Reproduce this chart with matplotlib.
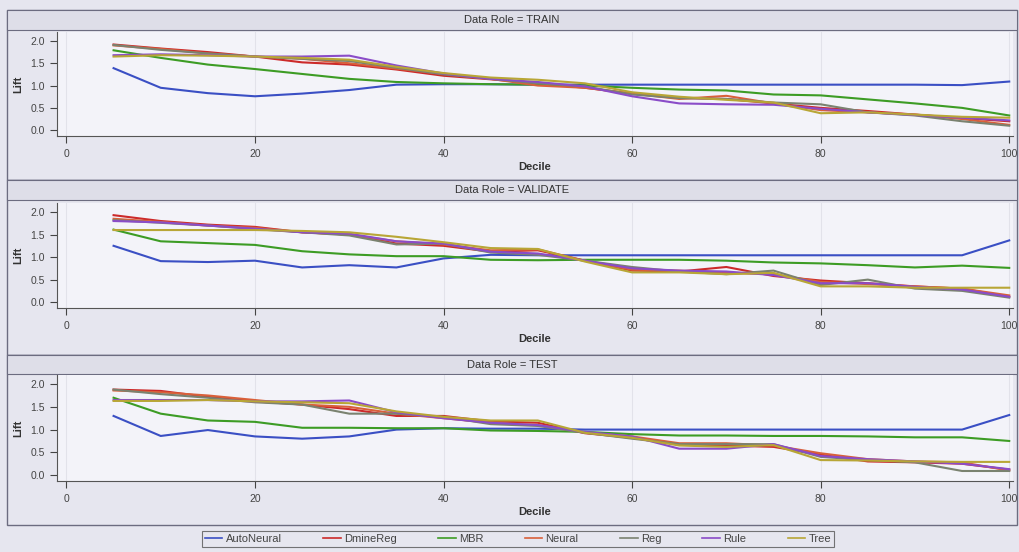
import numpy as np
import matplotlib.pyplot as plt
from matplotlib.patches import Rectangle

plt.rcParams['font.family'] = ['Liberation Sans', 'DejaVu Sans']

# deciles 5..100
decile = [5, 10, 15, 20, 25, 30, 35, 40, 45, 50, 55, 60, 65, 70, 75, 80, 85, 90, 95, 100]
models = ["AutoNeural", "DmineReg", "MBR", "Neural", "Reg", "Rule", "Tree"]
colors = ["#3a4fc4", "#cc2a2a", "#3d9c25", "#d9603a", "#7a8270", "#8a4cc8", "#b8a636"]

# TRAIN
auto_tr = [1.39, 0.95, 0.83, 0.76, 0.82, 0.90, 1.02, 1.03, 1.03, 1.02, 1.02, 1.02, 1.02, 1.02, 1.02, 1.02, 1.02, 1.02, 1.01, 1.09]
dmine_tr = [1.92, 1.83, 1.75, 1.65, 1.52, 1.47, 1.36, 1.22, 1.14, 1.05, 0.95, 0.82, 0.72, 0.70, 0.60, 0.50, 0.43, 0.35, 0.27, 0.20]
mbr_tr = [1.79, 1.62, 1.47, 1.37, 1.26, 1.15, 1.08, 1.05, 1.03, 1.02, 1.00, 0.95, 0.91, 0.89, 0.80, 0.78, 0.69, 0.60, 0.50, 0.33]
neural_tr = [1.90, 1.82, 1.72, 1.65, 1.60, 1.50, 1.38, 1.26, 1.15, 1.00, 0.95, 0.82, 0.70, 0.77, 0.60, 0.45, 0.40, 0.35, 0.25, 0.12]
reg_tr = [1.91, 1.80, 1.72, 1.65, 1.60, 1.55, 1.40, 1.25, 1.15, 1.05, 0.98, 0.80, 0.72, 0.70, 0.62, 0.58, 0.40, 0.33, 0.20, 0.10]
rule_tr = [1.68, 1.70, 1.68, 1.65, 1.65, 1.67, 1.45, 1.27, 1.15, 1.08, 0.98, 0.76, 0.60, 0.58, 0.57, 0.48, 0.40, 0.34, 0.28, 0.22]
tree_tr = [1.65, 1.68, 1.67, 1.65, 1.62, 1.58, 1.42, 1.28, 1.18, 1.13, 1.05, 0.85, 0.75, 0.68, 0.62, 0.38, 0.40, 0.35, 0.30, 0.28]

# VALIDATE
auto_va = [1.25, 0.91, 0.89, 0.92, 0.77, 0.82, 0.77, 0.97, 1.05, 1.04, 1.04, 1.04, 1.04, 1.04, 1.04, 1.04, 1.04, 1.04, 1.04, 1.37]
dmine_va = [1.93, 1.80, 1.72, 1.67, 1.55, 1.50, 1.30, 1.25, 1.12, 1.15, 0.92, 0.70, 0.68, 0.78, 0.58, 0.48, 0.42, 0.35, 0.30, 0.12]
mbr_va = [1.61, 1.35, 1.31, 1.27, 1.13, 1.06, 1.02, 1.02, 0.94, 0.93, 0.94, 0.94, 0.94, 0.92, 0.88, 0.86, 0.82, 0.77, 0.81, 0.76]
neural_va = [1.85, 1.78, 1.70, 1.65, 1.55, 1.50, 1.35, 1.28, 1.15, 1.17, 0.92, 0.72, 0.70, 0.65, 0.62, 0.45, 0.40, 0.35, 0.30, 0.15]
reg_va = [1.82, 1.76, 1.70, 1.62, 1.55, 1.48, 1.28, 1.30, 1.10, 1.05, 0.92, 0.78, 0.68, 0.62, 0.70, 0.38, 0.50, 0.30, 0.25, 0.10]
rule_va = [1.80, 1.77, 1.70, 1.63, 1.55, 1.52, 1.35, 1.30, 1.12, 1.08, 0.92, 0.75, 0.70, 0.68, 0.60, 0.42, 0.42, 0.34, 0.28, 0.12]
tree_va = [1.60, 1.60, 1.60, 1.60, 1.58, 1.55, 1.45, 1.33, 1.20, 1.18, 0.90, 0.66, 0.66, 0.62, 0.65, 0.35, 0.35, 0.32, 0.32, 0.32]

# TEST
auto_te = [1.30, 0.86, 0.99, 0.85, 0.80, 0.85, 1.00, 1.03, 1.02, 1.02, 1.00, 1.00, 1.00, 1.00, 1.00, 1.00, 1.00, 1.00, 1.00, 1.32]
dmine_te = [1.88, 1.85, 1.72, 1.62, 1.55, 1.45, 1.30, 1.30, 1.18, 1.15, 0.92, 0.82, 0.68, 0.65, 0.62, 0.45, 0.30, 0.28, 0.25, 0.12]
mbr_te = [1.70, 1.35, 1.20, 1.17, 1.04, 1.04, 1.03, 1.03, 0.98, 0.97, 0.95, 0.90, 0.87, 0.87, 0.86, 0.86, 0.85, 0.83, 0.83, 0.75]
neural_te = [1.86, 1.82, 1.75, 1.65, 1.55, 1.50, 1.35, 1.25, 1.15, 1.10, 0.93, 0.85, 0.70, 0.70, 0.65, 0.48, 0.35, 0.30, 0.28, 0.10]
reg_te = [1.88, 1.78, 1.70, 1.60, 1.55, 1.35, 1.35, 1.28, 1.12, 1.08, 0.93, 0.80, 0.68, 0.68, 0.68, 0.40, 0.33, 0.28, 0.09, 0.09]
rule_te = [1.65, 1.65, 1.65, 1.62, 1.62, 1.64, 1.38, 1.25, 1.15, 1.10, 0.95, 0.85, 0.58, 0.58, 0.68, 0.42, 0.35, 0.30, 0.25, 0.13]
tree_te = [1.63, 1.63, 1.65, 1.62, 1.60, 1.58, 1.40, 1.28, 1.20, 1.20, 0.93, 0.82, 0.65, 0.62, 0.66, 0.33, 0.32, 0.30, 0.29, 0.29]

roles = ["TRAIN", "VALIDATE", "TEST"]
series = [
    [auto_tr, dmine_tr, mbr_tr, neural_tr, reg_tr, rule_tr, tree_tr],
    [auto_va, dmine_va, mbr_va, neural_va, reg_va, rule_va, tree_va],
    [auto_te, dmine_te, mbr_te, neural_te, reg_te, rule_te, tree_te],
]

W, H = 1020, 552
bg = "#e6e6ef"
edge = "#6c6c80"

fig = plt.figure(figsize=(W / 100, H / 100), dpi=100, facecolor=bg)


def box(x0, y0, x1, y1):
    # pixel box -> figure fraction
    return [x0 / W, 1 - y1 / H, (x1 - x0) / W, (y1 - y0) / H]


# (box top, header bottom, box bottom, axes top, axes bottom) in pixels
layout = [(10, 30, 180, 32, 136), (180, 200, 355, 203, 308), (355, 374, 525, 375, 481)]

for role, data, (bt, hb, bb, at, ab) in zip(roles, series, layout):
    l, b, w, h = box(7, bt, 1017, bb)
    fig.add_artist(Rectangle((l, b), w, h, transform=fig.transFigure,
                             facecolor=bg, edgecolor=edge, lw=1.0, zorder=0))
    l, b, w, h = box(7, bt, 1017, hb)
    fig.add_artist(Rectangle((l, b), w, h, transform=fig.transFigure,
                             facecolor="#dedee8", edgecolor=edge, lw=0.8, zorder=0))
    fig.text(0.5 * (7 + 1017) / W, 1 - (bt + hb) / 2 / H, "Data Role = " + role,
             ha="center", va="center", fontsize=8, color="#333333")

    ax = fig.add_axes(box(57, at, 1013, ab))
    ax.set_facecolor("#f3f3f9")
    for name, vals, c in zip(models, data, colors):
        ax.plot(decile, vals, color=c, lw=1.5, label=name)
    ax.set_xlim(-1.0, 100.4)
    ax.set_ylim(-0.13, 2.2)
    ax.set_xticks([0, 20, 40, 60, 80, 100])
    ax.set_yticks([0.0, 0.5, 1.0, 1.5, 2.0])
    ax.set_yticklabels(["0.0", "0.5", "1.0", "1.5", "2.0"])
    ax.tick_params(labelsize=7.5, colors="#444444", length=5, width=0.8)
    ax.tick_params(axis="x", pad=4.5)
    ax.grid(axis="x", color="#e2e2ea", lw=0.8)
    for s in ["top", "right"]:
        ax.spines[s].set_visible(False)
    for s in ["left", "bottom"]:
        ax.spines[s].set_color("#555555")
    ax.set_xlabel("Decile", fontsize=8, fontweight="bold", labelpad=2, color="#333333")
    ax.set_ylabel("Lift", fontsize=8, fontweight="bold", labelpad=5, color="#333333")

handles, labels = ax.get_legend_handles_labels()
leg = fig.legend(handles, labels, loc="center", bbox_to_anchor=(518 / W, 1 - 539 / H),
                 ncol=7, fontsize=8, frameon=True, fancybox=False,
                 handlelength=1.6, handletextpad=0.3, columnspacing=3.7,
                 borderpad=0.25)
leg.get_frame().set_edgecolor("#555555")
leg.get_frame().set_facecolor(bg)
leg.get_frame().set_linewidth(0.8)
for t in leg.get_texts():
    t.set_color("#444444")
for ln in leg.get_lines():
    ln.set_linewidth(1.2)

fig.savefig("out.png", dpi=100, facecolor=bg)
